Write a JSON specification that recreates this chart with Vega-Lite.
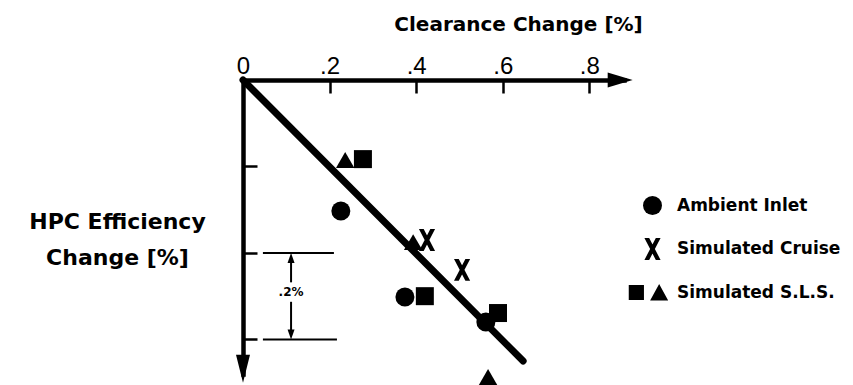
{
  "$schema": "https://vega.github.io/schema/vega-lite/v6.json",
  "width": 381,
  "height": 294,
  "autosize": {"type": "none"},
  "padding": {"left": 243, "top": 80, "right": 229, "bottom": 11},
  "background": "white",
  "config": {
    "view": {"stroke": null},
    "axis": {"grid": false}
  },
  "datasets": {
    "points": [
      {"series": "Ambient Inlet", "marker": "circle", "x": 0.226, "y": -0.303},
      {"series": "Ambient Inlet", "marker": "circle", "x": 0.374, "y": -0.502},
      {"series": "Ambient Inlet", "marker": "circle", "x": 0.561, "y": -0.56},
      {"series": "Simulated Cruise", "marker": "x", "x": 0.425, "y": -0.37},
      {"series": "Simulated Cruise", "marker": "x", "x": 0.506, "y": -0.439},
      {"series": "Simulated S.L.S.", "marker": "square", "x": 0.277, "y": -0.183},
      {"series": "Simulated S.L.S.", "marker": "square", "x": 0.42, "y": -0.5},
      {"series": "Simulated S.L.S.", "marker": "square", "x": 0.589, "y": -0.539},
      {"series": "Simulated S.L.S.", "marker": "triangle", "x": 0.236, "y": -0.185},
      {"series": "Simulated S.L.S.", "marker": "triangle", "x": 0.393, "y": -0.375},
      {"series": "Simulated S.L.S.", "marker": "triangle", "x": 0.566, "y": -0.687}
    ],
    "fit": [
      {"x": 0, "y": 0},
      {"x": 0.647, "y": -0.65}
    ],
    "bracket": [
      {"x": 0.046, "x2": 0.21, "y": -0.4, "y2": -0.4},
      {"x": 0.046, "x2": 0.217, "y": -0.6, "y2": -0.6},
      {"x": 0.111, "x2": 0.111, "y": -0.41, "y2": -0.468},
      {"x": 0.111, "x2": 0.111, "y": -0.513, "y2": -0.59}
    ],
    "heads": [
      {"kind": "x-axis", "x": 0.9, "y": 0},
      {"kind": "y-axis", "x": 0, "y": -0.7},
      {"kind": "up", "x": 0.111, "y": -0.4},
      {"kind": "down", "x": 0.111, "y": -0.6}
    ],
    "note": [
      {"x": 0.111, "y": -0.49, "text": ".2%"}
    ]
  },
  "encoding": {
    "x": {
      "field": "x",
      "type": "quantitative",
      "scale": {"domain": [0, 0.88], "nice": false, "zero": false},
      "axis": {
        "orient": "top",
        "values": [0, 0.2, 0.4, 0.6, 0.8],
        "labelExpr": "datum.value == 0 ? '0' : '.' + round(datum.value * 10)",
        "labelFont": "Liberation Sans",
        "labelFontSize": 24,
        "labelColor": "black",
        "labelBaseline": "alphabetic",
        "labelPadding": 20,
        "labelFlush": false,
        "labelOverlap": false,
        "tickSize": -13,
        "tickWidth": 2.5,
        "tickColor": "black",
        "domainColor": "black",
        "domainWidth": 4.5,
        "domainCap": "square",
        "title": "Clearance Change [%]",
        "titleFont": "DejaVu Sans",
        "titleFontWeight": "bold",
        "titleFontSize": 20,
        "titleColor": "black",
        "titleAlign": "center",
        "titleBaseline": "alphabetic",
        "titleX": 275,
        "titleY": -50
      }
    },
    "y": {
      "field": "y",
      "type": "quantitative",
      "scale": {"domain": [-0.68, 0], "nice": false, "zero": false},
      "axis": {
        "orient": "left",
        "values": [-0.2, -0.4, -0.6],
        "labels": false,
        "tickSize": -14,
        "tickWidth": 2.5,
        "tickColor": "black",
        "domainColor": "black",
        "domainWidth": 4.5,
        "domainCap": "square",
        "title": ["HPC Efficiency", "Change [%]"],
        "titleFont": "DejaVu Sans",
        "titleFontWeight": "bold",
        "titleFontSize": 22,
        "titleLineHeight": 36,
        "titleColor": "black",
        "titleAngle": 0,
        "titleAlign": "center",
        "titleBaseline": "alphabetic",
        "titleX": -126,
        "titleY": 148
      }
    }
  },
  "layer": [
    {
      "data": {"name": "fit"},
      "mark": {"type": "line", "color": "black", "strokeWidth": 7, "strokeCap": "round"}
    },
    {
      "data": {"name": "bracket"},
      "mark": {"type": "rule", "color": "black", "strokeWidth": 2},
      "encoding": {
        "x2": {"field": "x2"},
        "y2": {"field": "y2"}
      }
    },
    {
      "data": {"name": "note"},
      "mark": {"type": "text", "font": "DejaVu Sans", "fontWeight": "bold", "fontSize": 12, "color": "black", "align": "center", "baseline": "middle"},
      "encoding": {"text": {"field": "text"}}
    },
    {
      "data": {"name": "heads"},
      "transform": [{"filter": "datum.kind == 'x-axis'"}],
      "mark": {"type": "point", "shape": "M0,0L-2,-0.6L-2,0.6Z", "size": 625, "filled": true, "color": "black", "opacity": 1}
    },
    {
      "data": {"name": "heads"},
      "transform": [{"filter": "datum.kind == 'y-axis'"}],
      "mark": {"type": "point", "shape": "M0,0L-0.5,-2L0.5,-2Z", "size": 784, "filled": true, "color": "black", "opacity": 1}
    },
    {
      "data": {"name": "heads"},
      "transform": [{"filter": "datum.kind == 'up'"}],
      "mark": {"type": "point", "shape": "M0,0L-0.7,2L0.7,2Z", "size": 100, "filled": true, "color": "black", "opacity": 1}
    },
    {
      "data": {"name": "heads"},
      "transform": [{"filter": "datum.kind == 'down'"}],
      "mark": {"type": "point", "shape": "M0,0L-0.7,-2L0.7,-2Z", "size": 100, "filled": true, "color": "black", "opacity": 1}
    },
    {
      "data": {"name": "points"},
      "transform": [{"filter": "datum.marker == 'square'"}],
      "mark": {"type": "point", "shape": "square", "size": 324, "filled": true, "color": "black", "opacity": 1}
    },
    {
      "data": {"name": "points"},
      "transform": [{"filter": "datum.marker == 'triangle'"}],
      "mark": {"type": "point", "shape": "triangle-up", "size": 340, "filled": true, "color": "black", "opacity": 1}
    },
    {
      "data": {"name": "points"},
      "transform": [{"filter": "datum.marker == 'circle' || datum.marker == 'x'"}],
      "mark": {"type": "point", "size": 361, "filled": true, "color": "black", "opacity": 1, "strokeWidth": 0},
      "encoding": {
        "shape": {
          "field": "series",
          "type": "nominal",
          "scale": {
            "domain": ["Ambient Inlet", "Simulated Cruise", "Simulated S.L.S."],
            "range": [
              "circle",
              "M-0.85,-1.15L-0.35,-1.15L0.85,1.15L0.35,1.15Z M0.35,-1.15L0.85,-1.15L-0.35,1.15L-0.85,1.15Z",
              "M-2.5,-0.8L-0.9,-0.8L-0.9,0.8L-2.5,0.8Z M0.7,-0.9L1.65,0.85L-0.25,0.85Z"
            ]
          },
          "legend": {
            "orient": "none",
            "legendX": 400,
            "legendY": 116,
            "title": null,
            "symbolSize": 361,
            "symbolFillColor": "black",
            "symbolStrokeColor": "black",
            "symbolStrokeWidth": 0,
            "symbolOpacity": 1,
            "labelFont": "DejaVu Sans",
            "labelFontWeight": "bold",
            "labelFontSize": 17,
            "labelColor": "black",
            "labelOffset": 15,
            "labelLimit": 300,
            "rowPadding": 22.5
          }
        }
      }
    }
  ]
}
